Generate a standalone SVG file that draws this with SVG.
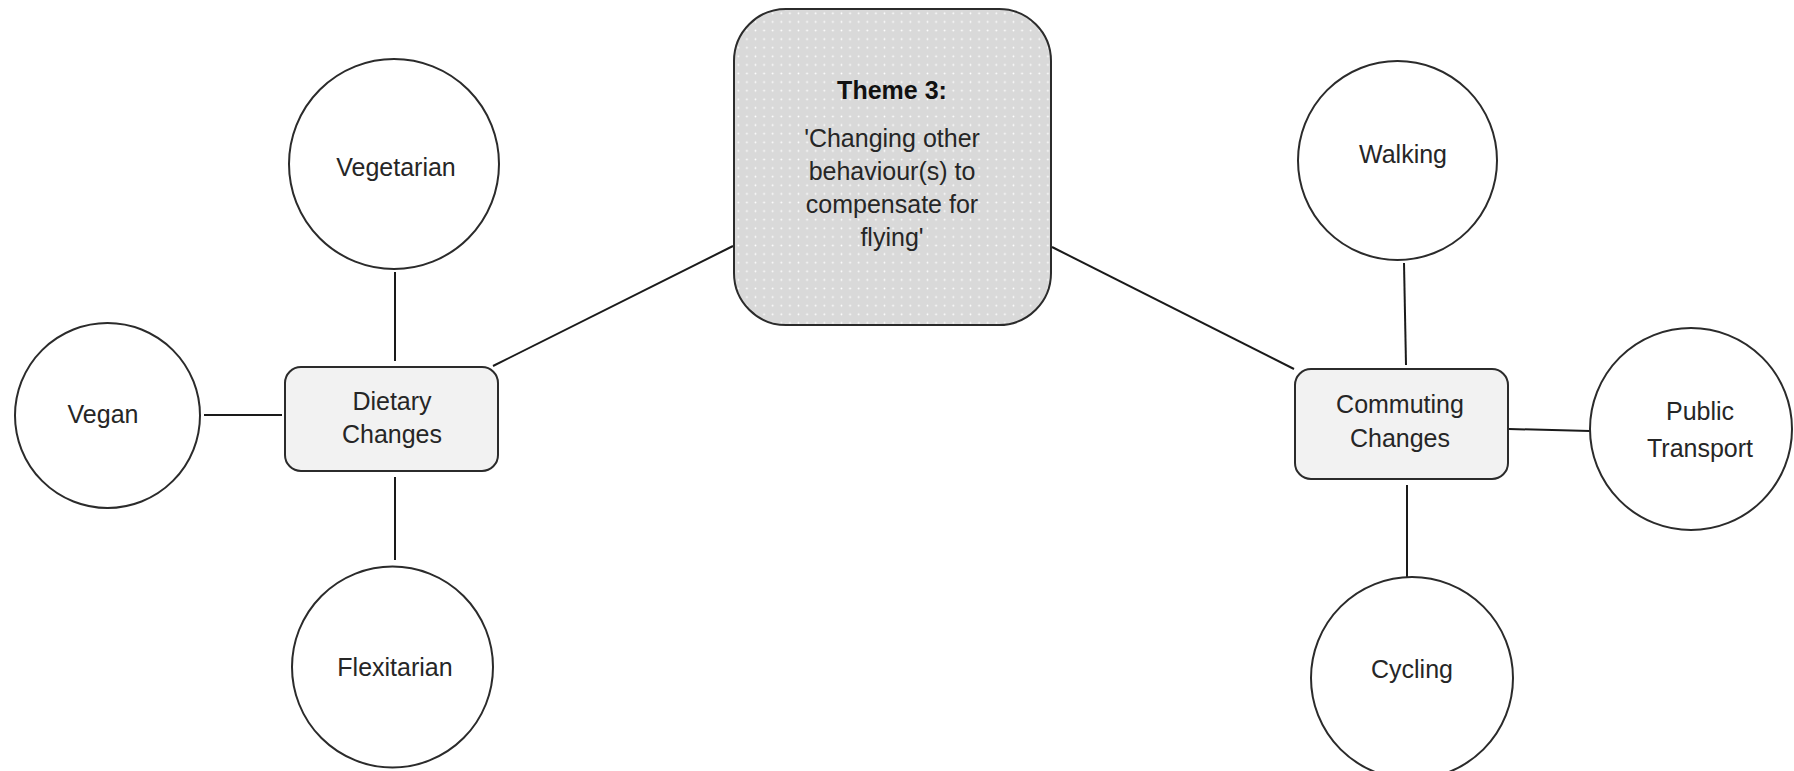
<svg xmlns="http://www.w3.org/2000/svg" width="1794" height="771" viewBox="0 0 1794 771">
  <defs>
    <pattern id="dots" x="734" y="9" width="8.6" height="8.6" patternUnits="userSpaceOnUse">
      <rect width="8.6" height="8.6" fill="#d9d9d9"/>
      <circle cx="4.3" cy="4.3" r="0.9" fill="#ffffff"/>
    </pattern>
  </defs>
  <style>
    .circle { fill: #ffffff; stroke: #2b2b2b; stroke-width: 2; }
    .box { fill: #f2f2f2; stroke: #2b2b2b; stroke-width: 2; }
    .theme { fill: url(#dots); stroke: #2b2b2b; stroke-width: 2; }
    .edge { stroke: #1a1a1a; stroke-width: 2; fill: none; }
    text { font-family: "Liberation Sans", Arial, sans-serif; font-size: 25px; fill: #262626; text-anchor: middle; }
    .bold { font-weight: bold; fill: #111111; }
  </style>

  <g id="connectors">
    <line class="edge" x1="493" y1="366" x2="733" y2="246"/>
    <line class="edge" x1="1052" y1="247" x2="1294" y2="369"/>
    <line class="edge" x1="395" y1="272" x2="395" y2="361"/>
    <line class="edge" x1="204" y1="415" x2="282" y2="415"/>
    <line class="edge" x1="395" y1="477" x2="395" y2="560"/>
    <line class="edge" x1="1404" y1="263" x2="1406" y2="365"/>
    <line class="edge" x1="1509" y1="429" x2="1590" y2="431"/>
    <line class="edge" x1="1407" y1="485" x2="1407" y2="577"/>
  </g>

  <g id="theme">
    <rect class="theme" x="734" y="9" width="317" height="316" rx="52" ry="52"/>
    <text class="bold" x="892" y="99">Theme 3:</text>
    <text x="892" y="147">'Changing other</text>
    <text x="892" y="180">behaviour(s) to</text>
    <text x="892" y="213">compensate for</text>
    <text x="892" y="246">flying'</text>
  </g>

  <g id="dietary">
    <rect class="box" x="285" y="367" width="213" height="104" rx="16" ry="16"/>
    <text x="392" y="410">Dietary</text>
    <text x="392" y="443">Changes</text>
  </g>

  <g id="commuting">
    <rect class="box" x="1295" y="369" width="213" height="110" rx="16" ry="16"/>
    <text x="1400" y="413">Commuting</text>
    <text x="1400" y="447">Changes</text>
  </g>

  <g id="vegetarian">
    <circle class="circle" cx="394" cy="164" r="105"/>
    <text x="396" y="176">Vegetarian</text>
  </g>

  <g id="vegan">
    <circle class="circle" cx="107.5" cy="415.5" r="92.5"/>
    <text x="103" y="423">Vegan</text>
  </g>

  <g id="flexitarian">
    <circle class="circle" cx="392.5" cy="667" r="100.5"/>
    <text x="395" y="676">Flexitarian</text>
  </g>

  <g id="walking">
    <circle class="circle" cx="1397.5" cy="160.5" r="99.5"/>
    <text x="1403" y="163">Walking</text>
  </g>

  <g id="public-transport">
    <circle class="circle" cx="1691" cy="429" r="101"/>
    <text x="1700" y="420">Public</text>
    <text x="1700" y="457">Transport</text>
  </g>

  <g id="cycling">
    <circle class="circle" cx="1412" cy="678" r="101"/>
    <text x="1412" y="678">Cycling</text>
  </g>
</svg>
